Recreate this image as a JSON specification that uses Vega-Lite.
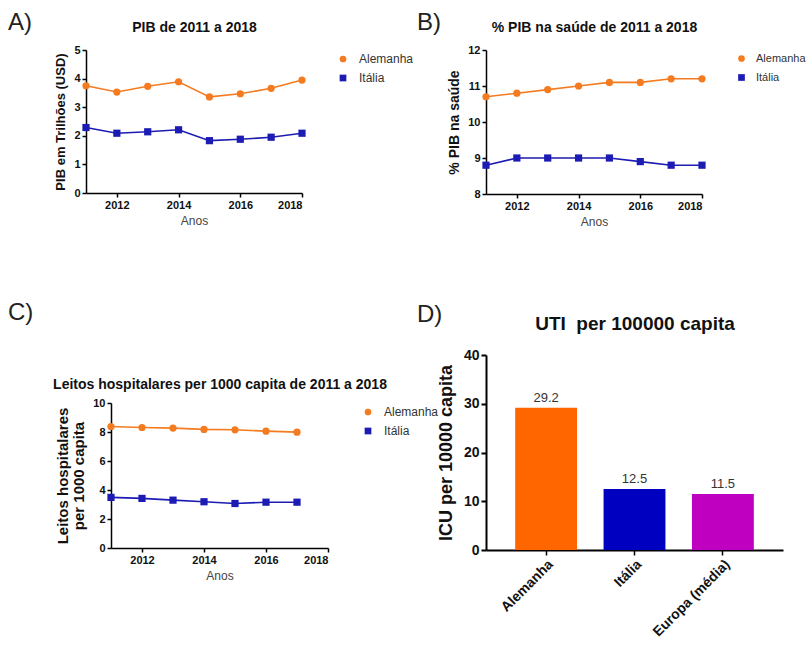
{
  "$schema": "https://vega.github.io/schema/vega-lite/v6.json",
  "padding": {"left": 7, "top": 11, "right": 0, "bottom": 0},
  "background": "white",
  "config": {
    "font": "Liberation Sans",
    "view": {"stroke": null},
    "axis": {"grid": false, "domainColor": "#000", "domainWidth": 1.5, "tickColor": "#000", "tickWidth": 1.5, "tickSize": 4, "labelFontSize": 11, "labelFontWeight": "bold", "labelColor": "#111", "labelPadding": 2, "titleColor": "#111", "titleFontWeight": "bold"},
    "legend": {"labelFontSize": 12, "labelColor": "#333", "symbolSize": 45, "rowPadding": 7, "padding": 3, "labelOffset": 10, "symbolStrokeWidth": 0},
    "title": {"font": "Liberation Sans"}
  },
  "datasets": {
    "pib": [
      {"ano": 2011, "pais": "Alemanha", "valor": 3.75}, {"ano": 2012, "pais": "Alemanha", "valor": 3.53}, {"ano": 2013, "pais": "Alemanha", "valor": 3.73}, {"ano": 2014, "pais": "Alemanha", "valor": 3.89}, {"ano": 2015, "pais": "Alemanha", "valor": 3.36}, {"ano": 2016, "pais": "Alemanha", "valor": 3.47}, {"ano": 2017, "pais": "Alemanha", "valor": 3.66}, {"ano": 2018, "pais": "Alemanha", "valor": 3.95},
      {"ano": 2011, "pais": "Itália", "valor": 2.29}, {"ano": 2012, "pais": "Itália", "valor": 2.09}, {"ano": 2013, "pais": "Itália", "valor": 2.14}, {"ano": 2014, "pais": "Itália", "valor": 2.21}, {"ano": 2015, "pais": "Itália", "valor": 1.83}, {"ano": 2016, "pais": "Itália", "valor": 1.88}, {"ano": 2017, "pais": "Itália", "valor": 1.95}, {"ano": 2018, "pais": "Itália", "valor": 2.09}
    ],
    "saude": [
      {"ano": 2011, "pais": "Alemanha", "valor": 10.7}, {"ano": 2012, "pais": "Alemanha", "valor": 10.8}, {"ano": 2013, "pais": "Alemanha", "valor": 10.9}, {"ano": 2014, "pais": "Alemanha", "valor": 11.0}, {"ano": 2015, "pais": "Alemanha", "valor": 11.1}, {"ano": 2016, "pais": "Alemanha", "valor": 11.1}, {"ano": 2017, "pais": "Alemanha", "valor": 11.2}, {"ano": 2018, "pais": "Alemanha", "valor": 11.2},
      {"ano": 2011, "pais": "Itália", "valor": 8.8}, {"ano": 2012, "pais": "Itália", "valor": 9.0}, {"ano": 2013, "pais": "Itália", "valor": 9.0}, {"ano": 2014, "pais": "Itália", "valor": 9.0}, {"ano": 2015, "pais": "Itália", "valor": 9.0}, {"ano": 2016, "pais": "Itália", "valor": 8.9}, {"ano": 2017, "pais": "Itália", "valor": 8.8}, {"ano": 2018, "pais": "Itália", "valor": 8.8}
    ],
    "leitos": [
      {"ano": 2011, "pais": "Alemanha", "valor": 8.38}, {"ano": 2012, "pais": "Alemanha", "valor": 8.31}, {"ano": 2013, "pais": "Alemanha", "valor": 8.27}, {"ano": 2014, "pais": "Alemanha", "valor": 8.18}, {"ano": 2015, "pais": "Alemanha", "valor": 8.15}, {"ano": 2016, "pais": "Alemanha", "valor": 8.06}, {"ano": 2017, "pais": "Alemanha", "valor": 7.99},
      {"ano": 2011, "pais": "Itália", "valor": 3.49}, {"ano": 2012, "pais": "Itália", "valor": 3.42}, {"ano": 2013, "pais": "Itália", "valor": 3.30}, {"ano": 2014, "pais": "Itália", "valor": 3.19}, {"ano": 2015, "pais": "Itália", "valor": 3.07}, {"ano": 2016, "pais": "Itália", "valor": 3.16}, {"ano": 2017, "pais": "Itália", "valor": 3.16}
    ],
    "uti": [
      {"pais": "Alemanha", "valor": 29.2}, {"pais": "Itália", "valor": 12.5}, {"pais": "Europa (média)", "valor": 11.5}
    ]
  },
  "hconcat": [
    {
      "concat": [
        {"width": 1, "height": 1, "data": {"values": []}, "mark": "point"},
        {
          "width": 216, "height": 143,
          "title": {"text": "A)", "anchor": "start", "frame": "group", "fontSize": 24, "fontWeight": "normal", "color": "#222", "dx": -78, "dy": 34, "offset": 0, "baseline": "alphabetic", "align": "left"},
          "data": {"name": "pib"},
          "encoding": {
            "y": {"field": "valor", "type": "quantitative", "scale": {"domain": [0, 5], "nice": false}, "axis": {"values": [0, 1, 2, 3, 4, 5], "title": "PIB em Trilhões (USD)", "titleFontSize": 13, "titlePadding": 6}},
            "color": {"field": "pais", "type": "nominal", "scale": {"domain": ["Alemanha", "Itália"], "range": ["#F47B20", "#1C1CB4"]}, "legend": {"title": null, "offset": 28}}
          },
          "layer": [
            {"mark": {"type": "line", "strokeWidth": 1.6},
             "encoding": {
               "x": {"field": "ano", "type": "quantitative", "scale": {"domain": [2011, 2018], "nice": false, "zero": false}, "axis": {"values": [2012, 2014, 2016, 2018], "format": "d", "title": "Anos", "titleFontWeight": "normal", "titleFontSize": 12, "titleColor": "#444", "titlePadding": 5}}
             }},
            {"mark": {"type": "point", "filled": true, "opacity": 1, "size": 52},
             "encoding": {
               "x": {"field": "ano", "type": "quantitative", "axis": {"orient": "top", "title": "PIB de 2011 a 2018", "labels": false, "ticks": false, "domain": false, "titleFontSize": 14, "titleX": 108, "titleY": -19, "titleAlign": "center", "titleBaseline": "alphabetic"}},
               "shape": {"field": "pais", "type": "nominal", "scale": {"domain": ["Alemanha", "Itália"], "range": ["circle", "square"]}, "legend": {"title": null, "offset": 28}}
             }}
          ],
          "resolve": {"axis": {"x": "independent"}}
        },
        {"width": 1, "height": 1, "data": {"values": []}, "mark": "point"},
        {
          "width": 217, "height": 145,
          "title": {"text": "C)", "anchor": "start", "frame": "group", "fontSize": 24, "fontWeight": "normal", "color": "#222", "dx": -103, "dy": -33, "offset": 0, "baseline": "alphabetic", "align": "left"},
          "data": {"name": "leitos"},
          "encoding": {
            "y": {"field": "valor", "type": "quantitative", "scale": {"domain": [0, 10], "nice": false}, "axis": {"values": [0, 2, 4, 6, 8, 10], "title": ["Leitos hospitalares", "per 1000 capita"], "titleFontSize": 15, "titleLineHeight": 16, "titlePadding": 6}},
            "color": {"field": "pais", "type": "nominal", "scale": {"domain": ["Alemanha", "Itália"], "range": ["#F47B20", "#1C1CB4"]}, "legend": {"title": null, "offset": 31}}
          },
          "layer": [
            {"mark": {"type": "line", "strokeWidth": 1.6},
             "encoding": {
               "x": {"field": "ano", "type": "quantitative", "scale": {"domain": [2011, 2018], "nice": false, "zero": false}, "axis": {"values": [2012, 2014, 2016, 2018], "format": "d", "title": "Anos", "titleFontWeight": "normal", "titleFontSize": 12, "titleColor": "#444", "titlePadding": 5}}
             }},
            {"mark": {"type": "point", "filled": true, "opacity": 1, "size": 52},
             "encoding": {
               "x": {"field": "ano", "type": "quantitative", "axis": {"orient": "top", "title": "Leitos hospitalares per 1000 capita de 2011 a 2018", "labels": false, "ticks": false, "domain": false, "titleFontSize": 14, "titleX": 108.5, "titleY": -15, "titleAlign": "center", "titleBaseline": "alphabetic"}},
               "shape": {"field": "pais", "type": "nominal", "scale": {"domain": ["Alemanha", "Itália"], "range": ["circle", "square"]}, "legend": {"title": null, "offset": 31}}
             }}
          ],
          "resolve": {"axis": {"x": "independent"}}
        }
      ],
      "columns": 2,
      "align": "none",
      "spacing": {"row": 75, "column": 0},
      "resolve": {"scale": {"color": "independent", "shape": "independent"}}
    },
    {
      "vconcat": [
        {
          "width": 216, "height": 144,
          "title": {"text": "B)", "anchor": "start", "frame": "group", "fontSize": 24, "fontWeight": "normal", "color": "#222", "dx": -69, "dy": 34, "offset": 0, "baseline": "alphabetic", "align": "left"},
          "data": {"name": "saude"},
          "encoding": {
            "y": {"field": "valor", "type": "quantitative", "scale": {"domain": [8, 12], "nice": false, "zero": false}, "axis": {"values": [8, 9, 10, 11, 12], "title": "% PIB na saúde", "titleFontSize": 14, "titlePadding": 6}},
            "color": {"field": "pais", "type": "nominal", "scale": {"domain": ["Alemanha", "Itália"], "range": ["#F47B20", "#1C1CB4"]}, "legend": {"title": null, "offset": 27, "labelFontSize": 11, "labelOffset": 9}}
          },
          "layer": [
            {"mark": {"type": "line", "strokeWidth": 1.6},
             "encoding": {
               "x": {"field": "ano", "type": "quantitative", "scale": {"domain": [2011, 2018], "nice": false, "zero": false}, "axis": {"values": [2012, 2014, 2016, 2018], "format": "d", "title": "Anos", "titleFontWeight": "normal", "titleFontSize": 12, "titleColor": "#444", "titlePadding": 5}}
             }},
            {"mark": {"type": "point", "filled": true, "opacity": 1, "size": 52},
             "encoding": {
               "x": {"field": "ano", "type": "quantitative", "axis": {"orient": "top", "title": "% PIB na saúde de 2011 a 2018", "labels": false, "ticks": false, "domain": false, "titleFontSize": 14, "titleX": 108, "titleY": -19, "titleAlign": "center", "titleBaseline": "alphabetic"}},
               "shape": {"field": "pais", "type": "nominal", "scale": {"domain": ["Alemanha", "Itália"], "range": ["circle", "square"]}, "legend": {"title": null, "offset": 27, "labelFontSize": 11, "labelOffset": 9}}
             }}
          ],
          "resolve": {"axis": {"x": "independent"}}
        },
        {
          "width": 297, "height": 195,
          "title": {"text": "D)", "anchor": "start", "frame": "group", "fontSize": 24, "fontWeight": "normal", "color": "#222", "dx": -69, "dy": 31, "offset": 0, "baseline": "alphabetic", "align": "left"},
          "data": {"name": "uti"},
          "encoding": {
            "y": {"field": "valor", "type": "quantitative", "scale": {"domain": [0, 40], "nice": false}, "axis": {"values": [0, 10, 20, 30, 40], "title": "ICU per 10000 capita", "titleFontSize": 18, "labelFontSize": 14, "domainWidth": 2, "tickWidth": 2, "tickSize": 5, "titlePadding": 8}}
          },
          "layer": [
            {"mark": {"type": "bar"},
             "encoding": {
               "x": {"field": "pais", "type": "nominal", "sort": null, "scale": {"paddingInner": 0.3, "paddingOuter": 0.33}, "axis": {"title": null, "labelAngle": -45, "labelFontSize": 14, "domainWidth": 2, "tickSize": 5, "labelPadding": 2}},
               "color": {"field": "pais", "type": "nominal", "scale": {"domain": ["Alemanha", "Itália", "Europa (média)"], "range": ["#FF6600", "#0000C0", "#C000C0"]}, "legend": null}
             }},
            {"mark": {"type": "text", "baseline": "bottom", "dy": -3, "fontSize": 13, "color": "#333"},
             "encoding": {
               "x": {"field": "pais", "type": "nominal", "sort": null, "axis": {"orient": "top", "title": "UTI\u00a0 per 100000 capita", "labels": false, "ticks": false, "domain": false, "titleFontSize": 19, "titleX": 148.5, "titleY": -25.5, "titleAlign": "center", "titleBaseline": "alphabetic"}},
               "text": {"field": "valor", "type": "quantitative", "format": ".1f"}
             }}
          ],
          "resolve": {"axis": {"x": "independent"}}
        }
      ],
      "spacing": 75,
      "resolve": {"scale": {"color": "independent", "shape": "independent"}}
    }
  ],
  "spacing": -25,
  "resolve": {"scale": {"color": "independent", "shape": "independent"}}
}
